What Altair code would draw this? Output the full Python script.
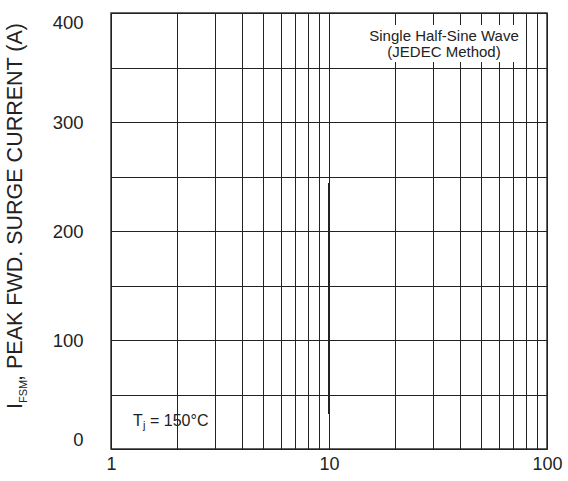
import altair as alt
import pandas as pd

# ---- data ----
cycles = [10, 10]
current = [244, 32]

x_grid = [1, 2, 3, 4, 5, 6, 7, 8, 9, 10, 20, 30, 40, 50, 60, 70, 80, 90, 100]
x_labels = [1, 10, 100]
y_grid = [0, 50, 100, 150, 200, 250, 300, 350, 400]
y_labels = [0, 100, 200, 300, 400]

note_lines = ["Single Half-Sine Wave", "(JEDEC Method)"]
note_x = [33.7, 33.7]
note_y = [379, 364]
box_x = [15, 76]
box_y = [355, 389]

title_parts = ["I", "FSM", ", PEAK FWD. SURGE CURRENT (A)"]
tj_parts = ["T", "j", "= 150°C"]

FONT = "Liberation Sans"
INK = "#222222"

df = pd.DataFrame({"cycles": cycles, "current": current})
box_df = pd.DataFrame({"cycles": [box_x[0]], "x2": [box_x[1]], "current": [box_y[0]], "y2": [box_y[1]]})
note_df = pd.DataFrame({"cycles": note_x, "current": note_y, "t": note_lines})
one = pd.DataFrame({"k": [0]})

x_lab_expr = "indexof([" + ",".join(str(v) for v in x_labels) + "], datum.value) >= 0 ? format(datum.value, 'd') : ''"
y_lab_expr = "indexof([" + ",".join(str(v) for v in y_labels) + "], datum.value) >= 0 ? format(datum.value, 'd') : ''"

xscale = alt.Scale(type="log", domain=[1, 100], nice=False)
yscale = alt.Scale(domain=[0, 400], nice=False, zero=False)

xaxis = alt.Axis(values=x_grid, labelExpr=x_lab_expr, title=None, grid=True,
                 ticks=False, domain=False, labelFlush=False, labelOverlap=False,
                 labelPadding=6, labelFontSize=18, labelFont=FONT, labelColor=INK,
                 gridColor=INK, gridWidth=1, gridOpacity=1)
yaxis = alt.Axis(values=y_grid, labelExpr=y_lab_expr, title=None, grid=True,
                 ticks=False, domain=False, labelFlush=True, labelOverlap=False,
                 labelPadding=28, labelFontSize=18.5, labelFont=FONT, labelColor=INK,
                 gridColor=INK, gridWidth=1, gridOpacity=1)

X = alt.X("cycles:Q", scale=xscale, axis=xaxis)
Y = alt.Y("current:Q", scale=yscale, axis=yaxis)

line = alt.Chart(df).mark_line(color=INK, strokeWidth=2).encode(x=X, y=Y)

box = alt.Chart(box_df).mark_rect(fill="white").encode(
    x=X, x2="x2:Q", y=Y, y2="y2:Q",
)

note = alt.Chart(note_df).mark_text(font=FONT, fontSize=15, color=INK, align="center",
                                    baseline="middle").encode(x=X, y=Y, text="t:N")

def label(txt, x, y, size, angle=0):
    kw = dict(font=FONT, fontSize=size, color=INK, align="left", baseline="alphabetic")
    if angle:
        kw["angle"] = angle
    return alt.Chart(one).mark_text(**kw).encode(
        x=alt.value(x), y=alt.value(y), text=alt.value(txt))

t_title = [
    label(title_parts[0], -89, 396, 21.5, 270),
    label(title_parts[1], -84, 390, 11, 270),
    label(title_parts[2], -89, 368, 21.5, 270),
]
t_tj = [
    label(tj_parts[0], 22, 413, 16),
    label(tj_parts[1], 32, 416, 11),
    label(tj_parts[2], 39, 413, 16),
]

chart = alt.layer(line, box, note, *t_title, *t_tj).properties(
    width=436, height=436,
    autosize=alt.AutoSizeParams(type="none"),
    padding={"left": 111, "top": 13, "right": 21, "bottom": 32},
    background="white",
).configure_view(stroke="#333333", strokeWidth=1.5)

chart.save("out.html", embed_options={"renderer": "svg", "actions": False})
